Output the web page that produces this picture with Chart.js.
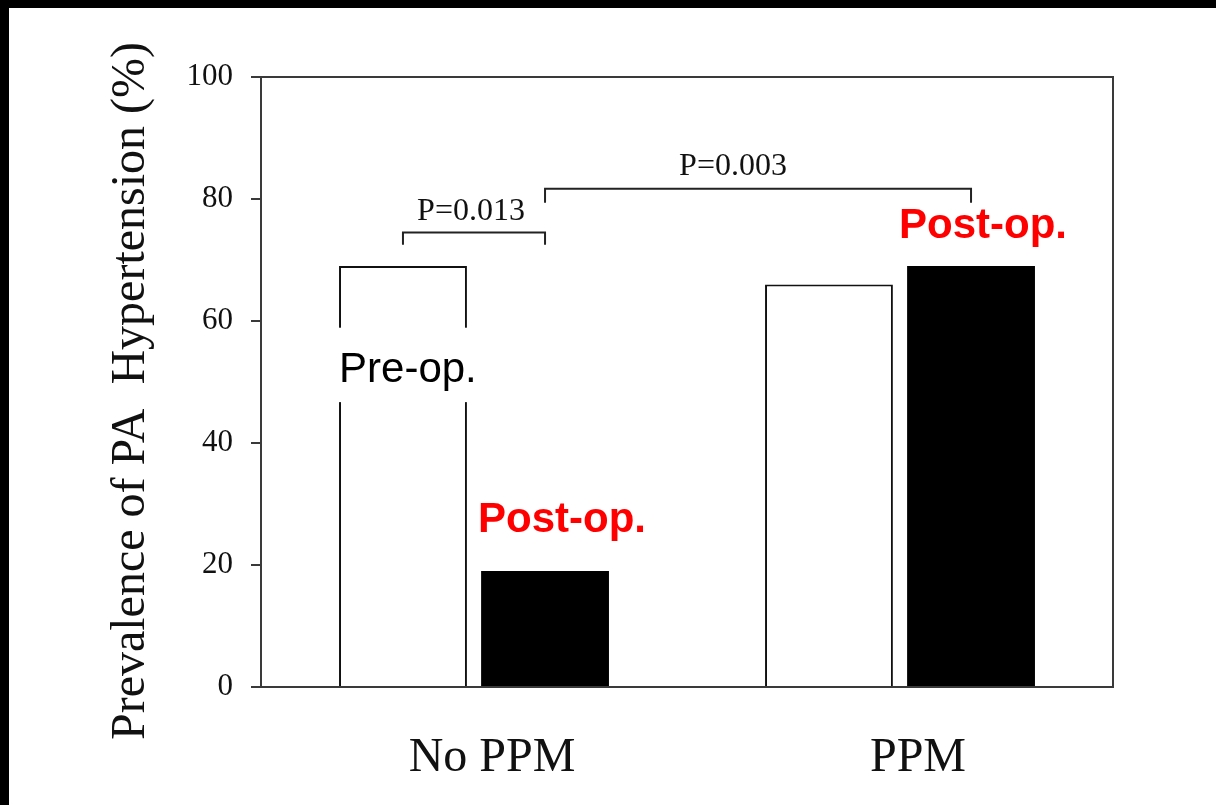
<!DOCTYPE html>
<html>
<head>
<meta charset="utf-8">
<script src="https://cdn.jsdelivr.net/npm/chart.js@4/dist/chart.umd.min.js"></script>
<style>
  html, body { margin: 0; padding: 0; background: #000; }
  #wrap { position: absolute; left: 9px; top: 8px; width: 1207px; height: 797px; background: #fff; }
</style>
</head>
<body>
<div id="wrap"><canvas id="chart" width="1207" height="797"></canvas></div>
<script>
// data
const groups = ['No PPM', 'PPM'];
const preOp = [69, 66];
const postOp = [19, 69];
const yTicks = [0, 20, 40, 60, 80, 100];
const pLabels = ['P=0.013', 'P=0.003'];
const yTitle = 'Prevalence of PA  Hypertension (%)';

const axisColor = '#3a3a3a';
const serif = '"Liberation Serif", "Times New Roman", serif';
const sans = '"Liberation Sans", Arial, sans-serif';

// frame, brackets, p-values and text labels on top of the bars
const annotate = {
  id: 'annotate',
  afterDatasetsDraw(chart) {
    const ctx = chart.ctx;
    const y = chart.scales.y;
    const area = chart.chartArea;
    const pre = chart.getDatasetMeta(0).data;
    const post = chart.getDatasetMeta(1).data;

    ctx.save();
    // top and right frame
    ctx.strokeStyle = axisColor;
    ctx.lineWidth = 2;
    ctx.beginPath();
    ctx.moveTo(area.left, area.top);
    ctx.lineTo(area.right, area.top);
    ctx.lineTo(area.right, area.bottom);
    ctx.stroke();

    // y axis title (sits a bit lower than the plot middle)
    ctx.save();
    ctx.translate(122, (area.top + area.bottom) / 2 + 9);
    ctx.rotate(-Math.PI / 2);
    ctx.fillStyle = '#111';
    ctx.font = '48px ' + serif;
    ctx.textAlign = 'center';
    ctx.textBaseline = 'middle';
    ctx.fillText(yTitle, 0, 0);
    ctx.restore();

    // brackets
    function bracket(x1, x2, v, legV) {
      const yy = y.getPixelForValue(v);
      const yl = y.getPixelForValue(legV);
      ctx.strokeStyle = '#222';
      ctx.lineWidth = 2;
      ctx.beginPath();
      ctx.moveTo(x1, yl);
      ctx.lineTo(x1, yy);
      ctx.lineTo(x2, yy);
      ctx.lineTo(x2, yl);
      ctx.stroke();
    }
    bracket(pre[0].x, post[0].x, 74.5, 72.5);
    bracket(post[0].x, post[1].x, 81.7, 79.4);

    ctx.fillStyle = '#111';
    ctx.font = '32px ' + serif;
    ctx.textAlign = 'center';
    ctx.textBaseline = 'alphabetic';
    ctx.fillText(pLabels[0], (pre[0].x + post[0].x) / 2 - 3, y.getPixelForValue(76.6));
    ctx.fillText(pLabels[1], (post[0].x + post[1].x) / 2 - 25, y.getPixelForValue(83.9));

    // white box behind Pre-op. label
    const b = pre[0];
    const boxTop = y.getPixelForValue(58.9);
    const boxBot = y.getPixelForValue(46.7);
    ctx.fillStyle = '#fff';
    ctx.fillRect(b.x - b.width / 2 - 4, boxTop, b.width + 10, boxBot - boxTop);
    ctx.fillStyle = '#000';
    ctx.font = '42px ' + sans;
    ctx.textAlign = 'left';
    ctx.fillText('Pre-op.', b.x - b.width / 2, y.getPixelForValue(50));

    // red Post-op. labels
    ctx.fillStyle = '#ff0000';
    ctx.font = 'bold 42px ' + sans;
    ctx.textAlign = 'center';
    ctx.fillText('Post-op.', post[0].x + 17, y.getPixelForValue(25.4));
    ctx.fillText('Post-op.', post[1].x + 12, y.getPixelForValue(73.6));
    ctx.restore();
  }
};

new Chart(document.getElementById('chart'), {
  type: 'bar',
  data: {
    labels: groups,
    datasets: [{
      label: 'Pre-op.',
      data: preOp,
      backgroundColor: '#fff',
      borderColor: '#111',
      borderWidth: 2
    }, {
      label: 'Post-op.',
      data: postOp,
      backgroundColor: '#000',
      borderWidth: 0
    }]
  },
  options: {
    responsive: false,
    animation: false,
    devicePixelRatio: 1,
    categoryPercentage: 0.667,
    barPercentage: 0.9,
    layout: { padding: { left: 0, top: 69, right: 103, bottom: 0 } },
    plugins: {
      legend: { display: false },
      tooltip: { enabled: false }
    },
    scales: {
      x: {
        grid: { display: false, drawTicks: false },
        border: { display: true, color: axisColor, width: 2 },
        ticks: { color: '#111', font: { family: serif, size: 48 }, padding: 43, labelOffset: 18 },
        afterFit(s) { s.height = 118; }
      },
      y: {
        min: 0,
        max: 100,
        afterBuildTicks(s) { s.ticks = yTicks.map(v => ({ value: v })); },
        grid: { drawOnChartArea: false, drawTicks: true, tickLength: 10, color: axisColor, lineWidth: 2 },
        border: { display: true, color: axisColor, width: 2 },
        ticks: { color: '#111', font: { family: serif, size: 31 }, padding: 18 },
        afterFit(s) { s.width = 252; }
      }
    }
  },
  plugins: [annotate]
});
</script>
</body>
</html>
